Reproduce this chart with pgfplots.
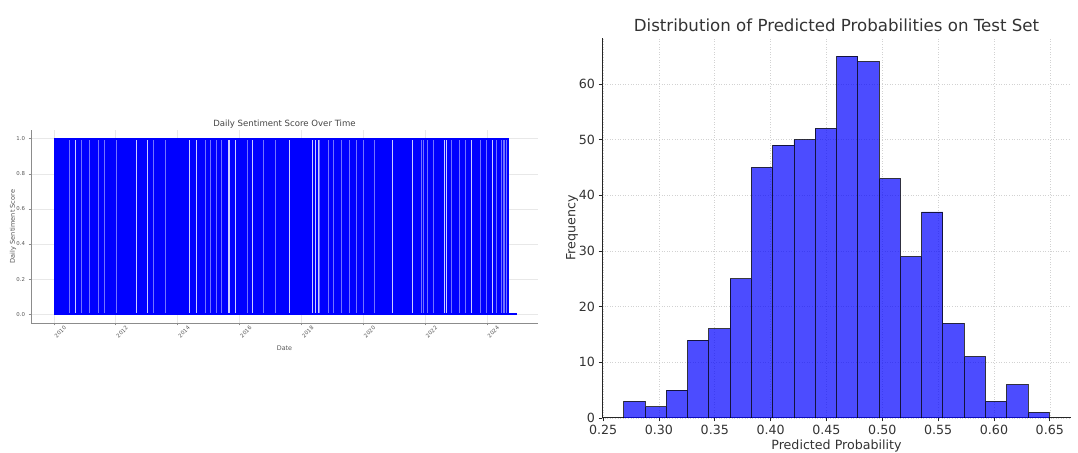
\documentclass[border=0pt]{standalone}
\usepackage{pgfplots}
\pgfplotsset{compat=1.18}
\usepackage{fontspec}
\setmainfont{DejaVu Sans}
\definecolor{lefttxt}{HTML}{555555}
\definecolor{leftaxis}{HTML}{8C8C8C}
\definecolor{righttxt}{HTML}{333333}
\definecolor{histblue}{HTML}{0000FF}
\pgfplotsset{every axis title shift=0pt}

\begin{document}
\begin{tikzpicture}[x=1bp,y=1bp]
\useasboundingbox (0,0) rectangle (1078,453);

% left: daily sentiment score (0/1 flips almost every day)
\begin{axis}[
    at={(31bp,130bp)}, anchor=south west,
    scale only axis, width=507bp, height=193bp,
    xmin=2009.26, xmax=2025.65, ymin=-0.05, ymax=1.05,
    axis x line*=bottom, axis y line*=left,
    axis line style={leftaxis, line width=0.8bp, -},
    tick align=outside, major tick length=2.5bp,
    tick style={leftaxis, line width=0.6bp},
    xtick={2010,2012,2014,2016,2018,2020,2022,2024},
    xticklabels={2010,2012,2014,2016,2018,2020,2022,2024},
    ytick={0,0.2,0.4,0.6,0.8,1},
    yticklabel style={/pgf/number format/.cd, fixed, fixed zerofill, precision=1},
    /pgf/number format/assume math mode=true,
    tick label style={font=\fontsize{5.4}{6}\selectfont, text=lefttxt},
    xticklabel style={rotate=45, anchor=center, yshift=-9bp},
    grid=major, major grid style={color=gray!18, line width=0.6bp},
    title={Daily Sentiment Score Over Time},
    title style={font=\fontsize{8.6}{10}\selectfont, text=lefttxt!80!black,
        at={(axis description cs:0.5,1.03)}, anchor=center},
    xlabel={Date},
    xlabel style={font=\fontsize{6.4}{7}\selectfont, text=lefttxt,
        at={(axis description cs:0.5,-0.13)}, anchor=center},
    ylabel={Daily Sentiment Score},
    ylabel style={font=\fontsize{6.6}{7}\selectfont, text=lefttxt,
        at={(axis description cs:-0.0355,0.5)}, anchor=center},
]
\addplot[fill=blue, draw=none] coordinates {(2010.00,1) (2024.70,1)} \closedcycle;
% days where the score stayed the same (no flip) show as light gaps
\addplot[ycomb, white, opacity=0.8, line width=1bp] coordinates {
    (2010.71,1) (2012.66,1) (2013.03,1) (2014.39,1) (2014.62,1)
    (2015.65,1) (2015.69,1) (2015.88,1) (2016.43,1) (2017.62,1)
    (2018.37,1) (2018.46,1) (2018.54,1) (2020.96,1) (2021.60,1)
    (2022.62,1) (2022.68,1) (2023.49,1) (2024.18,1)
};
\addplot[ycomb, white, opacity=0.45, line width=0.9bp] coordinates {
    (2010.50,1) (2010.90,1) (2011.14,1) (2011.44,1) (2011.62,1)
    (2012.01,1) (2013.21,1) (2013.60,1) (2014.89,1) (2015.05,1)
    (2015.25,1) (2015.42,1) (2016.26,1) (2016.77,1) (2017.17,1)
    (2018.60,1) (2018.86,1) (2019.05,1) (2019.28,1) (2019.57,1)
    (2019.79,1) (2020.02,1) (2020.37,1) (2021.87,1) (2021.96,1)
    (2022.09,1) (2022.28,1) (2022.86,1) (2023.12,1) (2023.31,1)
    (2023.79,1) (2023.98,1) (2024.30,1) (2024.46,1) (2024.52,1)
    (2024.57,1) (2024.63,1)
};
\addplot[blue, line width=2.2bp] coordinates {(2010.00,1) (2024.70,1)};
\addplot[blue, line width=2.2bp] coordinates {(2010.00,0) (2024.97,0)};
\end{axis}

% right: histogram of predicted probabilities
\begin{axis}[
    at={(602bp,35bp)}, anchor=south west,
    scale only axis, width=469bp, height=380bp,
    xmin=0.249, xmax=0.669, ymin=0, ymax=68.25,
    axis x line*=bottom, axis y line*=left,
    axis line style={black!85, line width=1bp, -},
    tick align=outside, major tick length=3.5bp,
    tick style={black!85, line width=0.8bp},
    xtick={0.25,0.30,0.35,0.40,0.45,0.50,0.55,0.60,0.65},
    xticklabel style={/pgf/number format/.cd, fixed, fixed zerofill, precision=2},
    ytick={0,10,20,30,40,50,60},
    /pgf/number format/assume math mode=true,
    tick label style={font=\fontsize{12.7}{14}\selectfont, text=righttxt},
    grid=major, major grid style={color=gray!35, line width=0.6bp, dotted},
    title={Distribution of Predicted Probabilities on Test Set},
    title style={font=\fontsize{16.7}{19}\selectfont, text=righttxt,
        at={(axis description cs:0.5,1.034)}, anchor=center},
    xlabel={Predicted Probability},
    xlabel style={font=\fontsize{12.7}{14}\selectfont, text=righttxt,
        at={(axis description cs:0.5,-0.075)}, anchor=center},
    ylabel={Frequency},
    ylabel style={font=\fontsize{12.7}{14}\selectfont, text=righttxt,
        at={(axis description cs:-0.064,0.5)}, anchor=center},
]
\addplot[ybar interval, fill=histblue, fill opacity=0.7, draw=black,
    draw opacity=0.75, line width=0.9bp] coordinates {
    (0.26850,3)  (0.28755,2)  (0.30660,5)  (0.32565,14) (0.34470,16)
    (0.36375,25) (0.38280,45) (0.40185,49) (0.42090,50) (0.43995,52)
    (0.45900,65) (0.47805,64) (0.49710,43) (0.51615,29) (0.53520,37)
    (0.55425,17) (0.57330,11) (0.59235,3)  (0.61140,6)  (0.63045,1)
    (0.64950,1)
};
\end{axis}
\end{tikzpicture}
\end{document}
